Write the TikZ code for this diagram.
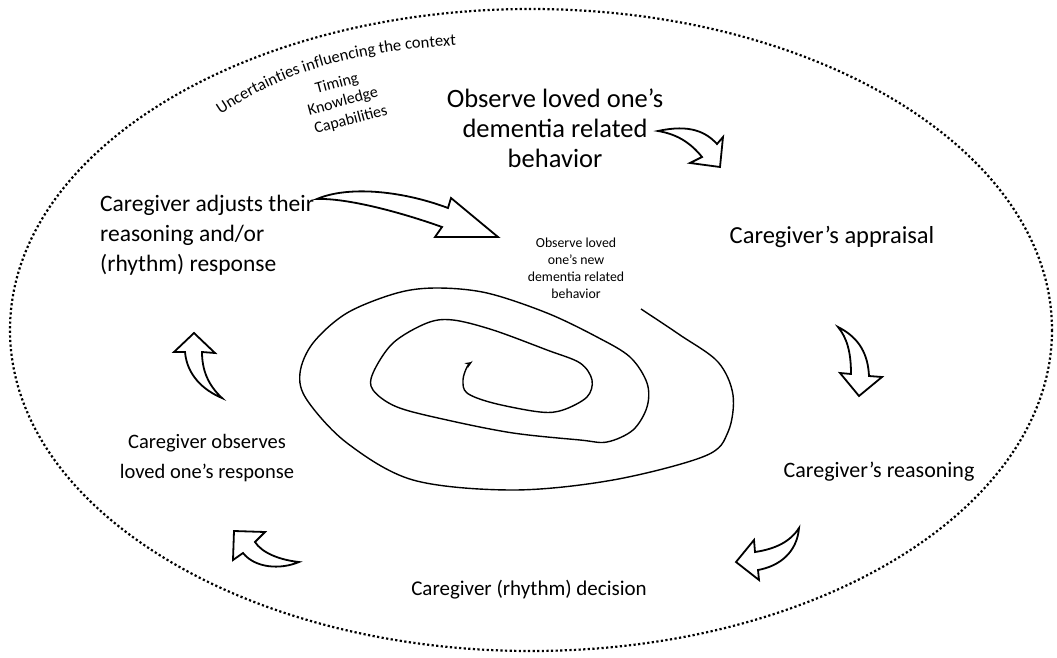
\documentclass[tikz,border=0pt]{standalone}
\usepackage{fontspec}
\setmainfont{Carlito}
\usetikzlibrary{arrows.meta,decorations.text}
\tikzset{
  mainlbl/.style={font=\fontsize{24.5}{30}\selectfont, align=center, inner sep=0pt},
  smalllbl/.style={font=\fontsize{13.8}{17}\selectfont, align=center, inner sep=0pt},
  ctxlbl/.style={font=\fontsize{16}{18}\selectfont, inner sep=0pt, rotate=15},
  blockarrow/.style={draw=black, fill=white, line width=1.8pt, line join=miter},
  spiralline/.style={draw=black, line width=1.4pt},
  boundary/.style={draw=black, line width=2.2pt, dash pattern=on 2.2pt off 2.4pt}
}
\begin{document}
\begin{tikzpicture}[x=1pt,y=-1pt]
\useasboundingbox (0,0) rectangle (1057,658);
% outer dotted ellipse
\path[boundary] (531,330) ellipse [x radius=521, y radius=321];

% curved context text
\path[decorate, decoration={text along path, text align=center,
  text={|\fontsize{16.5}{18}\selectfont|Uncertainties influencing the context}}]
  (214,119) .. controls (272,79) and (338,51) .. (464,45);
\node[ctxlbl] (timing) at (337,84) {Timing};
\node[ctxlbl] (knowledge) at (343,102) {Knowledge};
\node[ctxlbl] (capab) at (351,120) {Capabilities};

% labels
\node[mainlbl, font=\fontsize{26.5}{30}\selectfont] (observe) at (555,128) {Observe loved one’s\\dementia related\\behavior};
\node[mainlbl, font=\fontsize{23.5}{30}\selectfont, align=left, anchor=west] (adjust) at (100,235) {Caregiver adjusts their\\reasoning and/or\\(rhythm) response};
\node[mainlbl] (appraisal) at (832,237) {Caregiver’s appraisal};
\node[mainlbl, font=\fontsize{22}{30}\selectfont] (reasoning) at (879,472) {Caregiver’s reasoning};
\node[mainlbl, font=\fontsize{21}{30}\selectfont] (decision) at (529,590) {Caregiver (rhythm) decision};
\node[mainlbl, font=\fontsize{20.5}{30}\selectfont] (observes) at (207,458) {Caregiver observes\\loved one’s response};
\node[smalllbl] (newobs) at (576,268) {Observe loved\\one’s new\\dementia related\\behavior};

% block arrows
\path[blockarrow] (658,131) .. controls (690,124) and (706,132) .. (717,144)
  -- (723,137) -- (720,167) -- (690,163) -- (702,157)
  .. controls (690,142) and (676,134) .. cycle;
\path[blockarrow] (317,199) .. controls (347,186) and (400,190) .. (448,208)
  -- (451,198) -- (498,237) -- (435,237) -- (442,227)
  .. controls (400,212) and (347,198) .. cycle;
\path[blockarrow] (838,327) .. controls (860,338) and (868,355) .. (869,376)
  -- (882,377) -- (859,396) -- (840,373) -- (851,374)
  .. controls (851,352) and (847,338) .. cycle;
\path[blockarrow] (799,528) .. controls (790,542) and (775,549) .. (755,552)
  -- (754,540) -- (736,562) -- (759,580) -- (758,570)
  .. controls (780,566) and (797,552) .. cycle;
\path[blockarrow] (299,562) .. controls (280,560) and (262,553) .. (255,542)
  -- (265,532) -- (234,531) -- (233,560) -- (243,553)
  .. controls (255,568) and (280,570) .. cycle;
\path[blockarrow] (222,398) .. controls (208,385) and (202,370) .. (202,352)
  -- (215,353) -- (194,333) -- (174,352) -- (185,352)
  .. controls (187,375) and (203,390) .. cycle;

% spiral
\draw[spiralline, -{Stealth[length=7pt,width=6pt]}] plot[smooth, tension=0.55] coordinates {
 (641,309) (680,335) (718,362) (733,395) (728,432) (705,456) (613,480) (513,490)
 (413,480) (347,443) (307,400) (300,373) (313,343) (347,313) (397,293) (437,288)
 (487,293) (547,313) (597,337) (630,357) (647,383) (647,407) (633,430) (607,442)
 (580,440) (513,433) (447,420) (397,407) (373,390) (373,373) (393,343) (427,323)
 (453,320) (493,330) (547,350) (580,363) (592,380) (587,397) (563,410) (540,412)
 (493,403) (467,393) (463,380) (467,367) (472,362)};
\end{tikzpicture}
\end{document}
